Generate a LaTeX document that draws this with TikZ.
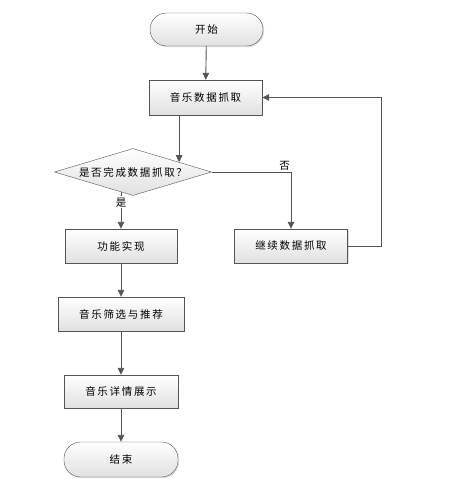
\documentclass[tikz,border=0pt]{standalone}
\usepackage{fontspec}
\newfontfamily\cjk[LetterSpace=16]{Noto Sans CJK SC}
\usetikzlibrary{shapes.geometric,arrows.meta,shadows}

\definecolor{trait}{HTML}{555555}
\tikzset{
  etape/.style={draw=trait, rectangle, minimum height=34pt, top color=white, bottom color=black!12,
    drop shadow={shadow xshift=1.2pt, shadow yshift=-1.2pt, opacity=.25}, font=\cjk\fontsize{10.5}{12}\selectfont},
  borne/.style={etape, rounded corners=16.5pt},
  test/.style={draw=trait, diamond, inner sep=0pt, minimum width=157pt, minimum height=47pt,
    top color=white, bottom color=black!12, font=\cjk\fontsize{10.5}{12}\selectfont},
  fleche/.style={draw=trait, line width=0.9pt, -{Triangle[length=7pt,width=6.5pt]}},
  lien/.style={draw=trait, line width=0.9pt},
  etiq/.style={font=\cjk\fontsize{10.5}{12}\selectfont, inner sep=1.5pt}
}

\begin{document}
\begin{tikzpicture}[x=1pt, y=-1pt]
 \useasboundingbox (0,0) rectangle (464,487);

	% Etapes
 \node[borne, minimum width=113pt, minimum height=33pt] (start) at (206.5,29.5) {开始};
 \node[etape, minimum width=113pt, minimum height=35pt] (fetch) at (205.5,97.5) {音乐数据抓取};
 \node[test] (check) at (133,172) {\makebox[0pt]{是否完成数据抓取？}};
 \node[etape, minimum width=112pt] (impl) at (121,246) {功能实现};
 \node[etape, minimum width=113pt] (more) at (291,246) {继续数据抓取};
 \node[etape, minimum width=126pt] (filter) at (121,314) {音乐筛选与推荐};
 \node[etape, minimum width=114pt, minimum height=33pt] (detail) at (121,391.5) {音乐详情展示};
 \node[borne, minimum width=114pt, minimum height=35pt] (stop) at (121,459.5) {结束};

	% Liaisons
 \draw[fleche] (start) -- (fetch);
 \draw[fleche] (check.12 |- fetch.south) -- (check.12);
 \draw[fleche] (impl.north |- check.239) -- (impl.north) node[pos=.28, fill=white, etiq]{是};
 \draw[fleche] (check.east) -| (more.north) node[pos=.46, above, etiq]{否};
 \draw[fleche] (more.east) -- ++(34,0) |- (fetch.east);
 \draw[fleche] (impl) -- (filter);
 \draw[fleche] (filter) -- (detail);
 \draw[fleche] (detail) -- (stop);

\end{tikzpicture}
\end{document}
